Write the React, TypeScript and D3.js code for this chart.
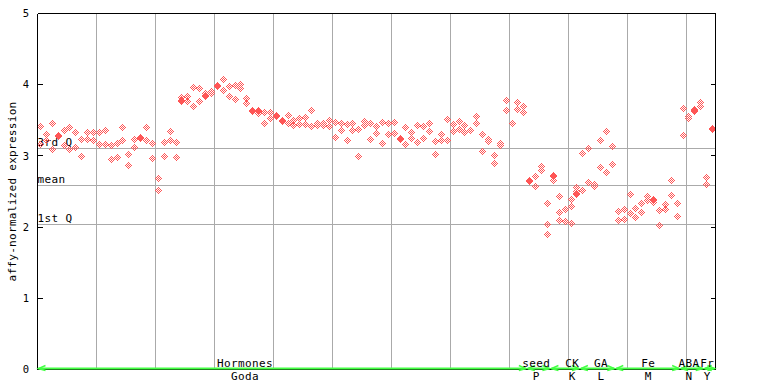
import React from 'react';
import * as d3 from 'd3';

// Replicate values per sample (column), grouped by experiment
const godaValues: number[][] = [
  [3.41, 3.16], [3.30, 3.22], [3.46, 3.09], [3.290, 3.276], [3.36, 3.15],
  [3.40, 3.09], [3.33, 3.12], [3.23, 2.99], [3.33, 3.23], [3.33, 3.21],
  [3.33, 3.16], [3.36, 3.16], [3.15, 2.95], [3.18, 2.98], [3.40, 3.21],
  [3.02, 2.87], [3.23, 3.12], [3.260, 3.246], [3.40, 3.21], [3.18, 2.96],
  [2.68, 2.52], [3.19, 2.99], [3.34, 3.22], [3.19, 2.98], [3.815, 3.778, 3.764],
  [3.84, 3.76], [3.96, 3.69], [3.94, 3.77], [3.876, 3.848, 3.834], [3.90, 3.87],
  [3.983, 3.969], [4.07, 3.92], [3.98, 3.83], [3.99, 3.79], [4.00, 3.94],
  [3.80, 3.74], [3.64, 3.63], [3.638, 3.624, 3.596], [3.61, 3.46], [3.61, 3.53],
  [3.572, 3.558], [3.492, 3.478], [3.57, 3.46], [3.50, 3.43], [3.53, 3.44],
  [3.54, 3.44], [3.64, 3.41], [3.46, 3.43], [3.46, 3.43], [3.50, 3.41],
  [3.47, 3.26], [3.46, 3.36], [3.44, 3.22], [3.46, 3.36], [3.37, 2.99],
  [3.48, 3.43], [3.46, 3.23], [3.41, 3.31], [3.47, 3.17], [3.46, 3.30],
  [3.47, 3.32], [3.239, 3.225], [3.40, 3.16], [3.33, 3.24], [3.43, 3.19],
  [3.41, 3.24], [3.46, 3.34], [3.20, 3.02], [3.30, 3.22], [3.51, 3.22],
  [3.44, 3.34], [3.48, 3.37], [3.43, 3.33], [3.36, 3.35], [3.55, 3.46],
  [3.30, 3.06], [3.23, 3.20], [3.01, 2.89], [3.17, 3.15], [3.78, 3.64],
  [3.46, 3.45], [3.75, 3.65], [3.69, 3.61],
];
const seedValues: number[][] = [
  [2.649, 2.635], [2.71, 2.57], [2.85, 2.79], [2.33, 2.04, 1.90],
];
const ckValues: number[][] = [
  [2.719, 2.705, 2.65], [2.43, 2.21, 2.09], [2.25, 2.08], [2.39, 2.29, 2.05],
  [2.556, 2.50, 2.472, 2.458],
];
const gaValues: number[][] = [
  [3.03, 2.51], [3.10, 2.63], [2.60, 2.57], [3.22, 2.84], [3.34, 2.77], [3.13, 2.88],
];
const feValues: number[][] = [
  [2.22, 2.09], [2.25, 2.11], [2.46, 2.19], [2.26, 2.13], [2.33, 2.21],
  [2.43, 2.37], [2.388, 2.374, 2.345], [2.23, 2.02], [2.32, 2.25], [2.65, 2.44],
  [2.33, 2.15],
];
const abaValues: number[][] = [
  [3.67, 3.29], [3.55, 3.53], [3.652, 3.638, 3.624], [3.75, 3.69],
];
const frValues: number[][] = [
  [2.70, 2.60], [3.379, 3.365],
];

const groupValues = [godaValues, seedValues, ckValues, gaValues, feValues, abaValues, frValues];
const groupNames = ['Hormones', 'seed', 'CK', 'GA', 'Fe', 'ABA', 'Fr'];
const groupCodes = ['Goda', 'P', 'K', 'L', 'M', 'N', 'Y'];
const groupLabelAt = [35.2, 84.6, 90.7, 95.6, 103.6, 110.5, 113.6];

const yTicks = [0, 1, 2, 3, 4, 5];
const refLabels = ['3rd Q', 'mean', '1st Q'];
const refValues = [3.107, 2.583, 2.036];

const W = 768, H = 384;
const left = 37.5, right = 715.5, top = 13.5, bottom = 369.5;
const RED = '#ff5555';
const GREEN = '#44ff44';
const GRID = '#aaaaaa';
const FONT = '"DejaVu Sans Mono", monospace';

// checkered diamond sprite offsets
const sprite: [number, number][] = [];
for (let dy = -3; dy <= 3; dy++) {
  for (let dx = -3; dx <= 3; dx++) {
    if (Math.abs(dx) + Math.abs(dy) <= 3 && Math.abs(dx + dy) % 2 === 1) sprite.push([dx, dy]);
  }
}

export default function App() {
  const columns: number[][] = groupValues.flat();
  const nCols = columns.length;
  const x = d3.scaleLinear().domain([0, nCols]).range([left, right]);
  const y = d3.scaleLinear().domain([0, 5]).range([bottom, top]);

  const groups: { start: number; end: number }[] = [];
  let s = 0;
  groupValues.forEach((g) => {
    groups.push({ start: s, end: s + g.length - 1 });
    s += g.length;
  });

  const markerPaths: string[] = [];
  columns.forEach((vals, i) => {
    const px = Math.floor(x(i + 0.5));
    vals.forEach((v) => {
      const py = Math.floor(y(v));
      let d = '';
      sprite.forEach(([dx, dy]) => {
        d += `M${px + dx} ${py + dy}h1v1h-1z`;
      });
      markerPaths.push(d);
    });
  });

  const gridCols = d3.range(10, nCols, 10);
  const snap = (v: number) => Math.round(v - 0.5) + 0.5;

  return (
    <svg width={W} height={H} style={{ position: 'absolute', left: 0, top: 0, background: '#fff' }}>
      <rect x={0} y={0} width={W} height={H} fill="#fff" />
      {gridCols.map((k) => (
        <line key={'g' + k} x1={snap(x(k))} x2={snap(x(k))} y1={top} y2={bottom} stroke={GRID} strokeWidth={1} />
      ))}
      {refValues.map((v, i) => {
        const yy = snap(y(v));
        return (
          <g key={'r' + i}>
            <line x1={left} x2={right} y1={yy} y2={yy} stroke={GRID} strokeWidth={1} />
            <text x={left} y={yy - 2.5} fontFamily={FONT} fontSize={11} letterSpacing={0.4} fill="#000">{refLabels[i]}</text>
          </g>
        );
      })}
      <g fill={RED} shapeRendering="crispEdges">
        {markerPaths.map((d, i) => <path key={'m' + i} d={d} />)}
      </g>
      <g stroke="#000" strokeWidth={1} shapeRendering="crispEdges">
        <line x1={left} x2={left} y1={top} y2={bottom} />
        <line x1={right} x2={right} y1={top} y2={bottom} />
        <line x1={left} x2={right} y1={top} y2={top} />
        <line x1={left} x2={right} y1={bottom} y2={bottom} />
        {yTicks.map((t) => (
          <g key={'t' + t}>
            <line x1={left} x2={left + 5} y1={snap(y(t))} y2={snap(y(t))} />
            <line x1={right - 5} x2={right} y1={snap(y(t))} y2={snap(y(t))} />
          </g>
        ))}
      </g>
      {yTicks.map((t) => (
        <text key={'tl' + t} x={29} y={y(t)} dy="0.36em" textAnchor="end" fontFamily={FONT} fontSize={10.5} fill="#000">{t}</text>
      ))}
      <text transform={`translate(15.5,${(top + bottom) / 2}) rotate(-90)`} textAnchor="middle" fontFamily={FONT} fontSize={11} letterSpacing={0.3} fill="#000">affy-normalized expression</text>
      <g stroke={GREEN} fill="none">
        {groups.map((g, i) => {
          const x1 = x(g.start) + 1;
          const x2 = x(g.end + 1) - 1;
          const yy = bottom - 1;
          return (
            <g key={'a' + i}>
              <line x1={x1} x2={x2} y1={yy} y2={yy} strokeWidth={2} />
              <path d={`M${x1 + 7} ${yy - 3}L${x1} ${yy}L${x1 + 7} ${yy + 2}`} strokeWidth={1.5} />
              <path d={`M${x2 - 7} ${yy - 3}L${x2} ${yy}L${x2 - 7} ${yy + 2}`} strokeWidth={1.5} />
            </g>
          );
        })}
      </g>
      {groupNames.map((n, i) => (
        <g key={'gl' + i}>
          <text x={x(groupLabelAt[i])} y={366.5} textAnchor="middle" fontFamily={FONT} fontSize={11} letterSpacing={0.4} fill="#000">{n}</text>
          <text x={x(groupLabelAt[i])} y={380} textAnchor="middle" fontFamily={FONT} fontSize={11} letterSpacing={0.4} fill="#000">{groupCodes[i]}</text>
        </g>
      ))}
    </svg>
  );
}
